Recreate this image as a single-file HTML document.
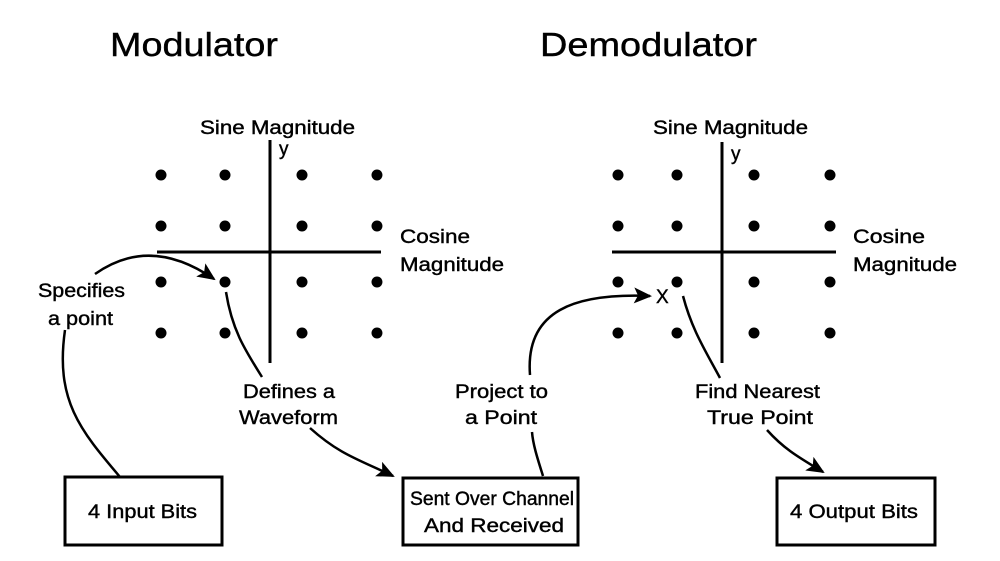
<!DOCTYPE html>
<html><head><meta charset="utf-8"><style>
body{margin:0;background:#fff}
svg{display:block}
text{font-family:"Liberation Sans",Arial,sans-serif;fill:#000;stroke:#000;stroke-width:0.4}
</style></head><body>
<svg width="1000" height="561" viewBox="0 0 1000 561">
<defs>
<marker id="b" markerWidth="18" markerHeight="16" refX="16" refY="8" orient="auto" markerUnits="userSpaceOnUse"><path d="M0,0 L18,8 L0,16 L4,8 z" fill="#000"/></marker></defs>
<text x="110" y="56" font-size="33" textLength="168" lengthAdjust="spacingAndGlyphs">Modulator</text>
<text x="540" y="56" font-size="33" textLength="217" lengthAdjust="spacingAndGlyphs">Demodulator</text>
<g font-size="19">
<text x="200" y="134" textLength="155" lengthAdjust="spacingAndGlyphs">Sine Magnitude</text>
<text x="653" y="134" textLength="155" lengthAdjust="spacingAndGlyphs">Sine Magnitude</text>
<text x="279" y="155">y</text>
<text x="731" y="160">y</text>
<text x="38" y="297" textLength="87" lengthAdjust="spacingAndGlyphs">Specifies</text>
<text x="48" y="325" textLength="65" lengthAdjust="spacingAndGlyphs">a point</text>
<text x="243" y="398" textLength="92" lengthAdjust="spacingAndGlyphs">Defines a</text>
<text x="239" y="424" textLength="99" lengthAdjust="spacingAndGlyphs">Waveform</text>
<text x="455" y="398" textLength="93" lengthAdjust="spacingAndGlyphs">Project to</text>
<text x="465" y="424" textLength="72" lengthAdjust="spacingAndGlyphs">a Point</text>
<text x="695" y="398" textLength="125" lengthAdjust="spacingAndGlyphs">Find Nearest</text>
<text x="707" y="424" textLength="106" lengthAdjust="spacingAndGlyphs">True  Point</text>
<text x="88" y="518" textLength="109" lengthAdjust="spacingAndGlyphs">4 Input Bits</text>
<text x="410" y="505" textLength="164" lengthAdjust="spacingAndGlyphs">Sent Over Channel</text>
<text x="424" y="532" textLength="140" lengthAdjust="spacingAndGlyphs">And Received</text>
<text x="790" y="518" textLength="128" lengthAdjust="spacingAndGlyphs">4 Output Bits</text>
<text x="400" y="243" textLength="70" lengthAdjust="spacingAndGlyphs">Cosine</text>
<text x="400" y="271" textLength="104" lengthAdjust="spacingAndGlyphs">Magnitude</text>
<text x="853" y="243" textLength="72" lengthAdjust="spacingAndGlyphs">Cosine</text>
<text x="853" y="271" textLength="104" lengthAdjust="spacingAndGlyphs">Magnitude</text>
<text x="656" y="303">X</text>
</g>
<g stroke="#000" stroke-width="3" fill="none">
<line x1="270" y1="140" x2="270" y2="363"/><line x1="157" y1="252" x2="381" y2="252"/>
<line x1="722" y1="142" x2="722" y2="363"/><line x1="612" y1="252" x2="836" y2="252"/>
<rect x="65" y="477" width="157" height="68"/>
<rect x="403" y="478" width="175" height="67"/>
<rect x="777" y="478" width="158" height="67"/>
</g>
<g fill="#000">
<circle cx="161" cy="175" r="5.5"/><circle cx="225" cy="175" r="5.5"/><circle cx="302" cy="175" r="5.5"/><circle cx="377" cy="175" r="5.5"/>
<circle cx="161" cy="226" r="5.5"/><circle cx="225" cy="226" r="5.5"/><circle cx="302" cy="226" r="5.5"/><circle cx="377" cy="226" r="5.5"/>
<circle cx="161" cy="282" r="5.5"/><circle cx="225" cy="282" r="5.5"/><circle cx="302" cy="282" r="5.5"/><circle cx="377" cy="282" r="5.5"/>
<circle cx="161" cy="333" r="5.5"/><circle cx="225" cy="333" r="5.5"/><circle cx="302" cy="333" r="5.5"/><circle cx="377" cy="333" r="5.5"/>
<circle cx="618" cy="175" r="5.5"/><circle cx="677" cy="175" r="5.5"/><circle cx="754" cy="175" r="5.5"/><circle cx="830" cy="175" r="5.5"/>
<circle cx="618" cy="226" r="5.5"/><circle cx="677" cy="226" r="5.5"/><circle cx="754" cy="226" r="5.5"/><circle cx="830" cy="226" r="5.5"/>
<circle cx="618" cy="282" r="5.5"/><circle cx="677" cy="282" r="5.5"/><circle cx="754" cy="282" r="5.5"/><circle cx="830" cy="282" r="5.5"/>
<circle cx="618" cy="333" r="5.5"/><circle cx="677" cy="333" r="5.5"/><circle cx="754" cy="333" r="5.5"/><circle cx="830" cy="333" r="5.5"/>
</g>
<g stroke="#000" stroke-width="2.5" fill="none">
<path d="M95,274 Q150,235 214,279" marker-end="url(#b)"/>
<path d="M65,330 C55,400 80,430 120,477"/>
<path d="M226,292 C232,330 245,350 262,377"/>
<path d="M310,428 C340,455 360,460 393,476" marker-end="url(#b)"/>
<path d="M543,476 C538,460 533,445 532,432"/>
<path d="M530,375 C525,310 575,293 650,296" marker-end="url(#b)"/>
<path d="M683,296 C692,330 705,350 720,378"/>
<path d="M767,430 C785,450 800,458 823,472" marker-end="url(#b)"/>
</g>
</svg>
</body></html>
